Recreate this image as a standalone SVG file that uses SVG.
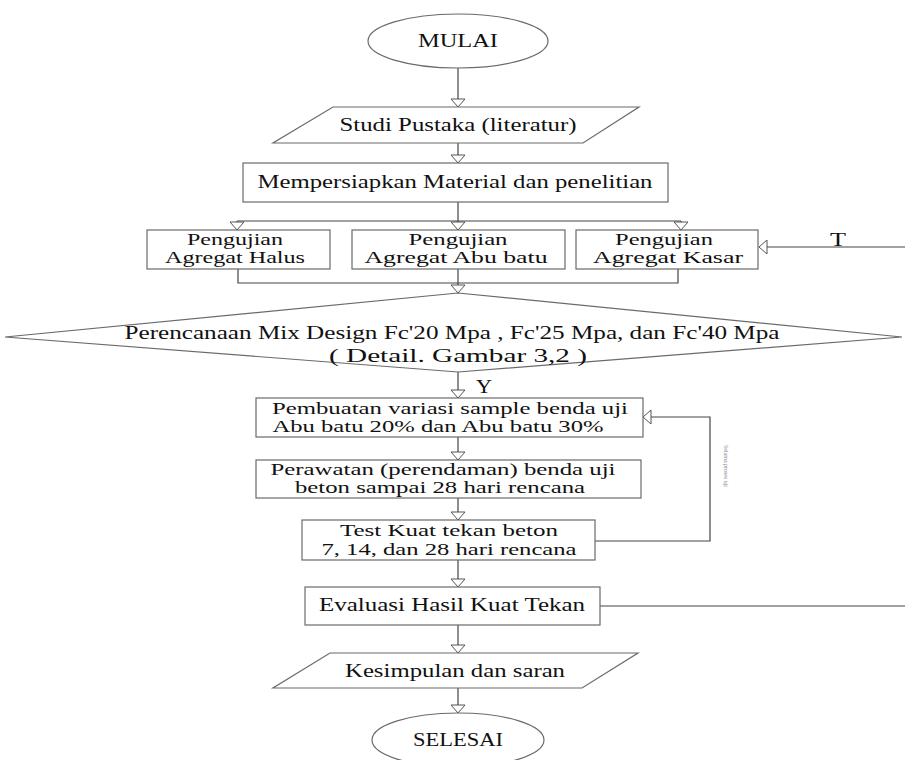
<svg xmlns="http://www.w3.org/2000/svg" width="905" height="760" viewBox="0 0 905 760">
<style>
.s{fill:#fff;stroke:#6a6a6a;stroke-width:1.2}
.c{fill:none;stroke:#444;stroke-width:1.2}
.t{font-family:"Liberation Serif","DejaVu Serif","Times New Roman",serif;font-size:18px;fill:#111;text-anchor:middle}
.m{font-size:16px}
.d{font-size:19px}
.v{font-family:"Liberation Serif","DejaVu Serif",serif;font-size:7px;fill:#888}
</style>
<defs>
<marker id="ah" markerUnits="userSpaceOnUse" viewBox="0 0 10 16" markerWidth="10" markerHeight="16" refX="9" refY="8" orient="auto">
<path d="M1,1 L9,8 L1,15 z" fill="#fff" stroke="#555" stroke-width="1"/>
</marker>
</defs>
<rect width="905" height="760" fill="#fff"/>
<g id="connectors">
<line class="c" x1="458" y1="68" x2="458" y2="107" marker-end="url(#ah)"/>
<line class="c" x1="458" y1="143" x2="458" y2="163" marker-end="url(#ah)"/>
<polyline class="c" points="458,202 458,221"/>
<polyline class="c" points="237,221 681,221"/>
<line class="c" x1="237" y1="221" x2="237" y2="230" marker-end="url(#ah)"/>
<line class="c" x1="458" y1="221" x2="458" y2="230" marker-end="url(#ah)"/>
<line class="c" x1="681" y1="221" x2="681" y2="230" marker-end="url(#ah)"/>
<polyline class="c" points="238,269 238,283 678,283 678,269"/>
<line class="c" x1="458" y1="269" x2="458" y2="293" marker-end="url(#ah)"/>
<line class="c" x1="458" y1="372" x2="458" y2="398" marker-end="url(#ah)"/>
<line class="c" x1="458" y1="437" x2="458" y2="460" marker-end="url(#ah)"/>
<line class="c" x1="458" y1="498" x2="458" y2="520" marker-end="url(#ah)"/>
<line class="c" x1="458" y1="560" x2="458" y2="587" marker-end="url(#ah)"/>
<line class="c" x1="458" y1="625" x2="458" y2="653" marker-end="url(#ah)"/>
<line class="c" x1="458" y1="688" x2="458" y2="713" marker-end="url(#ah)"/>
<polyline class="c" points="595,541 710,541 710,417 643,417" marker-end="url(#ah)"/>
<line class="c" x1="905" y1="247" x2="759" y2="247" marker-end="url(#ah)"/>
<line class="c" x1="600" y1="606" x2="905" y2="606"/>
<text class="t" x="838" y="246" textLength="16" lengthAdjust="spacingAndGlyphs">T</text>
<text class="t" x="484" y="393" textLength="16" lengthAdjust="spacingAndGlyphs">Y</text>
<text class="v" transform="translate(724,445) rotate(90)" textLength="42" lengthAdjust="spacingAndGlyphs">Selama proses uji</text>
</g>
<g id="mulai">
<ellipse class="s" cx="458" cy="41" rx="90" ry="27"/>
<text class="t" x="458" y="47" textLength="80" lengthAdjust="spacingAndGlyphs">MULAI</text>
</g>
<g id="studi">
<polygon class="s" points="333,107 639,107 583,143 273,143"/>
<text class="t" x="458" y="131" textLength="237" lengthAdjust="spacingAndGlyphs">Studi Pustaka (literatur)</text>
</g>
<g id="mempersiapkan">
<rect class="s" x="243" y="163" width="425" height="39"/>
<text class="t" x="455" y="188" textLength="395" lengthAdjust="spacingAndGlyphs">Mempersiapkan Material dan penelitian</text>
</g>
<g id="halus">
<rect class="s" x="147" y="230" width="183" height="39"/>
<text class="t m" x="235" y="245" textLength="96" lengthAdjust="spacingAndGlyphs">Pengujian</text>
<text class="t m" x="235" y="263" textLength="140" lengthAdjust="spacingAndGlyphs">Agregat Halus</text>
</g>
<g id="abubatu">
<rect class="s" x="352" y="230" width="213" height="39"/>
<text class="t m" x="458" y="245" textLength="99" lengthAdjust="spacingAndGlyphs">Pengujian</text>
<text class="t m" x="456" y="263" textLength="183" lengthAdjust="spacingAndGlyphs">Agregat Abu batu</text>
</g>
<g id="kasar">
<rect class="s" x="576" y="230" width="182" height="39"/>
<text class="t m" x="664" y="245" textLength="98" lengthAdjust="spacingAndGlyphs">Pengujian</text>
<text class="t m" x="668" y="263" textLength="150" lengthAdjust="spacingAndGlyphs">Agregat Kasar</text>
</g>
<g id="mixdesign">
<polygon class="s" points="458,293 902,337 458,372 5,337"/>
<text class="t d" x="452" y="339" textLength="655" lengthAdjust="spacingAndGlyphs">Perencanaan Mix Design Fc'20 Mpa , Fc'25 Mpa, dan Fc'40 Mpa</text>
<text class="t d" x="458" y="362" textLength="258" lengthAdjust="spacingAndGlyphs">( Detail. Gambar 3,2 )</text>
</g>
<g id="pembuatan">
<rect class="s" x="256" y="398" width="387" height="39"/>
<text class="t m" x="450" y="414" textLength="356" lengthAdjust="spacingAndGlyphs">Pembuatan variasi sample benda uji</text>
<text class="t m" x="438" y="432" textLength="331" lengthAdjust="spacingAndGlyphs">Abu batu 20% dan Abu batu 30%</text>
</g>
<g id="perawatan">
<rect class="s" x="256" y="460" width="385" height="38"/>
<text class="t m" x="443" y="475" textLength="345" lengthAdjust="spacingAndGlyphs">Perawatan (perendaman) benda uji</text>
<text class="t m" x="440" y="493" textLength="290" lengthAdjust="spacingAndGlyphs">beton sampai 28 hari rencana</text>
</g>
<g id="test">
<rect class="s" x="302" y="520" width="293" height="40"/>
<text class="t m" x="449" y="536" textLength="218" lengthAdjust="spacingAndGlyphs">Test Kuat tekan beton</text>
<text class="t m" x="449" y="555" textLength="255" lengthAdjust="spacingAndGlyphs">7, 14, dan 28 hari rencana</text>
</g>
<g id="evaluasi">
<rect class="s" x="305" y="587" width="295" height="38"/>
<text class="t" x="452" y="611" textLength="266" lengthAdjust="spacingAndGlyphs">Evaluasi Hasil Kuat Tekan</text>
</g>
<g id="kesimpulan">
<polygon class="s" points="330,653 638,653 582,688 273,688"/>
<text class="t" x="455" y="677" textLength="220" lengthAdjust="spacingAndGlyphs">Kesimpulan dan saran</text>
</g>
<g id="selesai">
<ellipse class="s" cx="458" cy="740" rx="86" ry="27"/>
<text class="t" x="458" y="746" textLength="90" lengthAdjust="spacingAndGlyphs">SELESAI</text>
</g>
</svg>
